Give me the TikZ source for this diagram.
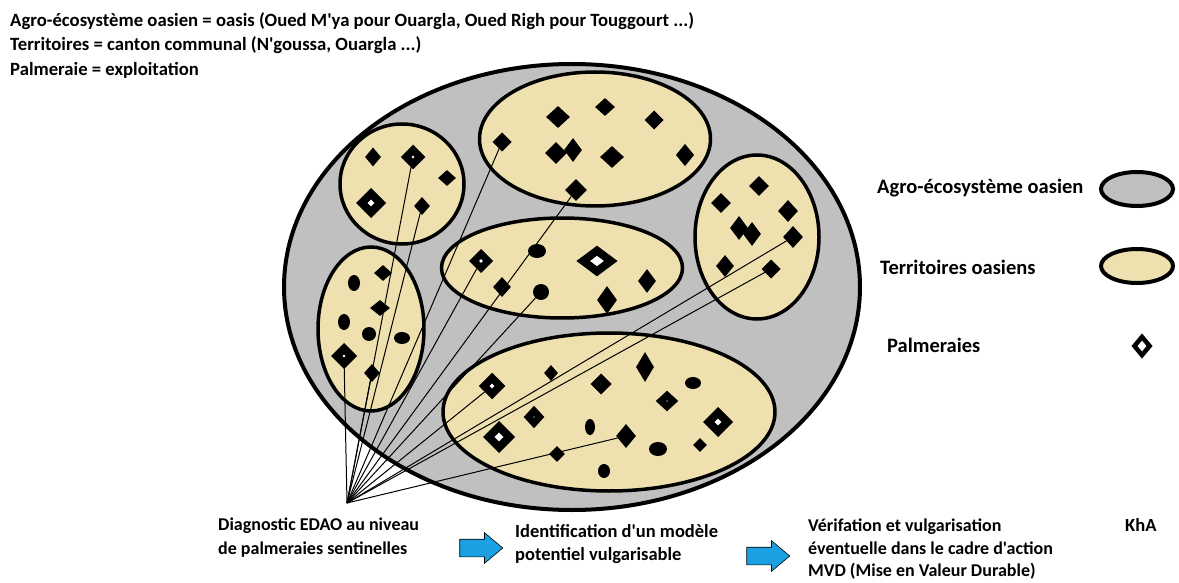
\documentclass[tikz,border=0pt]{standalone}
\usepackage{fontspec}
\setmainfont{Carlito}[Ligatures=TeXOff]
\usetikzlibrary{shapes.geometric,shapes.arrows,positioning}
\definecolor{oasisColor}{HTML}{C0C0C0}
\definecolor{territoryColor}{HTML}{EEE1AF}
\definecolor{flowColor}{HTML}{1BA1E2}

\begin{document}
\begin{tikzpicture}[%
    x=1pt,y=-1pt,every node/.style={font=\bfseries\fontsize{18.7}{24.5}\selectfont}]
    \tikzstyle{zone}=[ellipse,draw=black,line width=3.5pt,inner sep=0pt]
    \tikzstyle{oasis}=[zone,fill=oasisColor,line width=4pt]
    \tikzstyle{territory}=[zone,fill=territoryColor]
    % All palmeraie styles
    \tikzstyle{darkpalm}=[diamond,fill=black,inner sep=0pt,minimum width=20pt,minimum height=20pt]
    \tikzstyle{ovalpalm}=[ellipse,fill=black,inner sep=0pt,minimum width=14pt,minimum height=16pt]
    \tikzstyle{dotpalm}=[diamond,fill=white,draw=black,line width=7pt,inner sep=0pt,minimum width=12pt,minimum height=12pt]
    \tikzstyle{bigpalm}=[diamond,fill=white,draw=black,line width=8pt,inner sep=0pt,minimum width=22pt,minimum height=22pt]
    \tikzstyle{link}=[draw=black,line width=1pt]
    \tikzstyle{flow}=[single arrow,fill=flowColor,draw=black,line width=0.6pt,inner xsep=0pt,inner ysep=8.5pt,%
      minimum height=43pt,minimum width=30pt,single arrow head extend=6.5pt,single arrow tip angle=80]
    \tikzstyle{label}=[anchor=north west,align=left,inner sep=0pt]
    \tikzstyle{key}=[anchor=west,inner sep=0pt,font=\bfseries\fontsize{20.5}{24}\selectfont]
    \useasboundingbox (0,0) rectangle (1179,583);
    % Texts on top
    \node (defs) [label] at (10,12) {Agro-écosystème oasien = oasis (Oued M'ya pour Ouargla, Oued Righ pour Touggourt ...)\\
      Territoires = canton communal (N'goussa, Ouargla ...)\\Palmeraie = exploitation};
    % Oasis and territories
    \node (oasis) [oasis,minimum width=576pt,minimum height=446pt] at (572,287) {};
    \node (terr1) [territory,minimum width=124pt,minimum height=120pt] at (402,184) {};
    \node (terr2) [territory,minimum width=231pt,minimum height=134pt] at (595,139) {};
    \node (terr3) [territory,minimum width=106pt,minimum height=164pt] at (371,329) {};
    \node (terr4) [territory,minimum width=241pt,minimum height=100pt] at (562,268) {};
    \node (terr5) [territory,minimum width=124pt,minimum height=164pt] at (757,237) {};
    \node (terr6) [territory,minimum width=332pt,minimum height=158pt] at (609,412) {};
    % Palmeraies of territory 1
    \node (p11) [darkpalm,minimum width=16pt,minimum height=19pt] at (373,157) {};
    \node (p12) [bigpalm,minimum width=17pt,minimum height=17pt,line width=7.5pt] at (413,157) {};
    \node (p13) [darkpalm,minimum width=18pt,minimum height=16pt] at (447,178) {};
    \node (p14) [bigpalm] at (371,203) {};
    \node (p15) [darkpalm,minimum width=16pt,minimum height=18pt] at (422,206) {};
    % Palmeraies of territory 2
    \node (p21) [dotpalm] at (502,142) {};
    \node (p22) [darkpalm,minimum width=24pt,minimum height=22pt] at (558,117) {};
    \node (p23) [darkpalm,minimum height=18pt] at (605,107) {};
    \node (p24) [dotpalm] at (654,120) {};
    \node (p25) [darkpalm,minimum width=22pt,minimum height=22pt] at (556,153) {};
    \node (p26) [darkpalm,minimum width=18pt,minimum height=24pt] at (573,150) {};
    \node (p27) [darkpalm,minimum width=24pt,minimum height=22pt] at (612,157) {};
    \node (p28) [dotpalm,minimum height=14pt] at (685,155) {};
    \node (p29) [darkpalm,minimum width=22pt,minimum height=22pt] at (576,190) {};
    % Palmeraies of territory 3
    \node (p31) [darkpalm,minimum width=18pt,minimum height=16pt] at (383,273) {};
    \node (p32) [ovalpalm,minimum width=12pt] at (354,283) {};
    \node (p33) [darkpalm,minimum width=20pt,minimum height=16pt] at (380,308) {};
    \node (p34) [ovalpalm,minimum width=12pt] at (344,322) {};
    \node (p35) [ovalpalm,minimum height=14pt] at (369,334) {};
    \node (p36) [ovalpalm,minimum width=16pt,minimum height=12pt] at (402,338) {};
    \node (p37) [bigpalm,minimum width=18pt,minimum height=18pt] at (344,356) {};
    \node (p38) [darkpalm,minimum width=16pt,minimum height=18pt] at (372,373) {};
    % Palmeraies of territory 4
    \node (p41) [bigpalm,minimum width=17pt,minimum height=17pt,line width=7pt] at (481,261) {};
    \node (p42) [ovalpalm,minimum width=18pt,minimum height=14pt] at (537,251) {};
    \node (p43) [darkpalm,minimum width=18pt] at (502,287) {};
    \node (p44) [ovalpalm,minimum width=16pt] at (541,292) {};
    \node (p45) [bigpalm,minimum width=31pt,minimum height=24pt] at (597,261) {};
    \node (p46) [darkpalm,minimum height=28pt] at (607,300) {};
    \node (p47) [dotpalm,minimum height=15pt] at (647,281) {};
    % Palmeraies of territory 5
    \node (p51) [darkpalm] at (759,186) {};
    \node (p52) [darkpalm] at (721,203) {};
    \node (p53) [darkpalm,minimum height=22pt] at (788,211) {};
    \node (p54) [darkpalm,minimum width=18pt,minimum height=24pt] at (739,228) {};
    \node (p55) [darkpalm,minimum width=18pt,minimum height=24pt] at (752,234) {};
    \node (p56) [darkpalm,minimum height=22pt] at (793,237) {};
    \node (p57) [darkpalm,minimum width=18pt,minimum height=22pt] at (725,266) {};
    \node (p58) [dotpalm] at (771,269) {};
    % Palmeraies of territory 6
    \node (p61) [bigpalm,minimum width=19pt,minimum height=19pt,line width=7.5pt] at (492,386) {};
    \node (p62) [darkpalm,minimum width=14pt,minimum height=16pt] at (551,373) {};
    \node (p63) [dotpalm,minimum width=14pt,minimum height=14pt] at (601,384) {};
    \node (p64) [darkpalm,minimum width=18pt,minimum height=30pt] at (645,367) {};
    \node (p65) [ovalpalm,minimum width=16pt,minimum height=12pt] at (693,383) {};
    \node (p66) [dotpalm,minimum width=14pt,minimum height=15pt] at (534,417) {};
    \node (p67) [dotpalm,minimum width=15pt,minimum height=14pt] at (667,401) {};
    \node (p68) [bigpalm,minimum width=24pt,minimum height=24pt] at (499,437) {};
    \node (p69) [ovalpalm,minimum width=10pt] at (590,427) {};
    \node (p6a) [darkpalm,minimum height=24pt] at (626,436) {};
    \node (p6b) [bigpalm] at (718,422) {};
    \node (p6c) [darkpalm,minimum width=16pt,minimum height=16pt] at (557,454) {};
    \node (p6d) [ovalpalm,minimum width=18pt,minimum height=14pt] at (658,449) {};
    \node (p6e) [darkpalm,minimum width=14pt,minimum height=14pt] at (700,445) {};
    \node (p6f) [ovalpalm,minimum width=12pt,minimum height=14pt] at (604,471) {};
    % Sentinel links
    \coordinate (sentinel) at (347,503);
    \foreach \p in {p12,p15,p21,p29,p37,p38,p41,p44,p56,p58,p61,p6a}
      \draw [link] (sentinel) -- (\p);
    % Legend
    \node (legOasis) [key] at (877,188) {Agro-écosystème oasien};
    \node (legTerr) [key] at (880,267) {Territoires oasiens};
    \node (legPalm) [key] at (887,345) {Palmeraies};
    \node (keyOasis) [oasis,minimum width=72pt,minimum height=34pt] at (1137,189) {};
    \node (keyTerr) [territory,line width=4pt,minimum width=72pt,minimum height=34pt] at (1137,266) {};
    \node (keyPalm) [dotpalm,line width=4.5pt,minimum width=17pt,minimum height=20pt] at (1142,346) {};
    % Steps
    \node (step1) [label,font=\bfseries\fontsize{18}{23.5}\selectfont] at (218,518) {Diagnostic EDAO au niveau\\de palmeraies sentinelles};
    \node (flow1) [flow] at (476,548) {};
    \node (step2) [label,font=\bfseries\fontsize{18.5}{23.5}\selectfont] at (515,524) {Identification d'un modèle\\potentiel vulgarisable};
    \node (flow2) [flow] at (763,556) {};
    \node (step3) [label,font=\bfseries\fontsize{18}{22.5}\selectfont] at (808,519) {Vérifation et vulgarisation\\éventuelle dans le cadre d'action\\MVD (Mise en Valeur Durable)};
    \node (author) [label,font=\bfseries\fontsize{18.5}{23.5}\selectfont] at (1125,518) {KhA};
  \end{tikzpicture}
\end{document}
